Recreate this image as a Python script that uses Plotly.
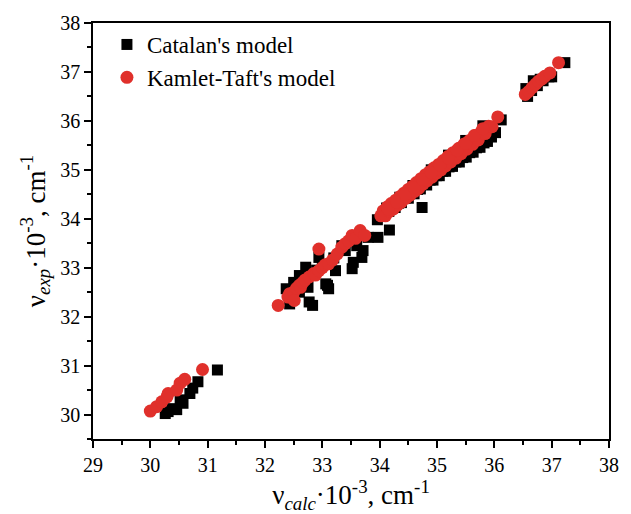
import plotly.graph_objects as go

# Catalan's model (black squares)
cat_x = [
    # low cluster
    30.26, 30.31, 30.46, 30.57, 30.69, 30.74, 30.83, 31.17, 30.38, 30.52,
    # middle cluster
    32.37, 32.43, 32.77, 32.83, 32.71, 33.06, 33.11, 33.23, 33.52, 33.54,
    33.69, 33.71, 33.80, 33.34, 32.60, 32.94, 33.09, 32.45, 32.55, 32.65,
    32.80, 32.90, 33.00, 32.50, 32.60, 32.75, 33.20, 33.40, 33.60, 32.50,
    # main band
    33.96, 34.05, 34.10, 34.16, 34.22, 34.27, 34.33, 34.38, 34.44, 34.50,
    34.55, 34.60, 34.66, 34.71, 34.77, 34.82, 34.88, 34.93, 34.99, 35.04,
    35.10, 35.15, 35.21, 35.27, 35.33, 35.39, 35.45, 35.51, 35.57, 35.63,
    35.69, 35.75, 35.82, 35.88, 35.95, 36.02, 36.12, 34.12, 34.35, 34.58,
    34.90, 35.20, 35.50, 35.80, 34.74, 34.17, 33.97,
    # top cluster
    36.55, 36.58, 36.65, 36.68, 36.75, 36.80, 36.85, 36.95, 37.00, 37.23,
]
cat_y = [
    30.02, 30.06, 30.10, 30.23, 30.43, 30.54, 30.67, 30.91, 30.12, 30.30,
    32.57, 32.26, 32.30, 32.23, 33.01, 32.67, 32.57, 32.94, 32.98, 33.11,
    33.21, 33.35, 33.62, 33.45, 32.84, 33.21, 32.64, 32.45, 32.62, 32.70,
    32.85, 32.95, 33.05, 32.70, 32.50, 32.60, 33.20, 33.35, 33.45, 32.35,
    33.98, 34.06, 34.14, 34.15, 34.24, 34.23, 34.32, 34.33, 34.42, 34.42,
    34.52, 34.51, 34.60, 34.61, 34.70, 34.69, 34.79, 34.79, 34.88, 34.88,
    34.97, 34.97, 35.06, 35.07, 35.16, 35.16, 35.25, 35.26, 35.35, 35.36,
    35.45, 35.46, 35.55, 35.58, 35.67, 35.76, 36.02, 34.22, 34.44, 34.68,
    35.00, 35.30, 35.60, 35.90, 34.23, 33.77, 33.62,
    36.66, 36.50, 36.62, 36.82, 36.72, 36.85, 36.82, 36.90, 36.90, 37.19,
]

# Kamlet-Taft's model (red circles)
kt_x = [
    # low cluster
    30.00, 30.11, 30.20, 30.29, 30.31, 30.46, 30.52, 30.60, 30.91,
    # middle cluster
    32.23, 32.40, 32.43, 32.50, 32.51, 32.55, 32.60, 32.62, 32.66, 32.70,
    32.77, 32.85, 32.88, 32.94, 32.94, 33.00, 33.05, 33.11, 33.18, 33.26,
    33.34, 33.40, 33.46, 33.52, 33.58, 33.66, 33.74,
    # main band
    34.02, 34.06, 34.10, 34.13, 34.17, 34.20, 34.24, 34.28, 34.31, 34.35,
    34.38, 34.42, 34.46, 34.50, 34.53, 34.57, 34.61, 34.64, 34.68, 34.72,
    34.76, 34.80, 34.83, 34.87, 34.91, 34.95, 34.99, 35.03, 35.07, 35.11,
    35.15, 35.19, 35.24, 35.28, 35.33, 35.38, 35.42, 35.47, 35.52, 35.57,
    35.62, 35.67, 35.72, 35.78, 35.84, 35.90, 35.96, 36.06,
    34.15, 34.30, 34.45, 34.60, 34.75, 34.90, 35.05, 35.20, 35.35, 35.50,
    35.65, 35.80,
    # top cluster
    36.54, 36.60, 36.66, 36.72, 36.77, 36.83, 36.88, 36.97, 37.12,
]
kt_y = [
    30.07, 30.16, 30.26, 30.36, 30.43, 30.50, 30.64, 30.72, 30.92,
    32.23, 32.40, 32.47, 32.50, 32.33, 32.58, 32.64, 32.60, 32.70, 32.75,
    32.81, 32.88, 32.85, 33.38, 32.94, 33.00, 33.06, 33.08, 33.16, 33.28,
    33.42, 33.49, 33.55, 33.66, 33.60, 33.76, 33.66,
    34.06, 34.16, 34.06, 34.24, 34.15, 34.31, 34.20, 34.38, 34.28, 34.45,
    34.34, 34.52, 34.42, 34.60, 34.48, 34.66, 34.56, 34.74, 34.62, 34.82,
    34.71, 34.90, 34.78, 34.96, 34.85, 35.04, 34.93, 35.11, 35.00, 35.19,
    35.08, 35.27, 35.16, 35.35, 35.24, 35.44, 35.33, 35.52, 35.42, 35.60,
    35.52, 35.70, 35.61, 35.79, 35.74, 35.89, 35.88, 36.08,
    34.20, 34.34, 34.50, 34.64, 34.80, 34.94, 35.10, 35.24, 35.40, 35.54,
    35.70, 35.84,
    36.54, 36.60, 36.68, 36.75, 36.81, 36.86, 36.91, 36.98, 37.19,
]

x_ticks = [29, 30, 31, 32, 33, 34, 35, 36, 37, 38]
y_ticks = [30, 31, 32, 33, 34, 35, 36, 37, 38]

FONT = "Liberation Serif"

fig = go.Figure()
fig.add_trace(go.Scatter(
    x=cat_x, y=cat_y, mode="markers", name="Catalan's model",
    marker=dict(symbol="square", size=11, color="black", line=dict(width=0)),
))
fig.add_trace(go.Scatter(
    x=kt_x, y=kt_y, mode="markers", name="Kamlet-Taft's model",
    marker=dict(symbol="circle", size=13, color="#e0302b", line=dict(width=0)),
))

axis_common = dict(
    showline=True, linecolor="black", linewidth=1.5, mirror=True,
    ticks="outside", ticklen=7, tickwidth=1.5, tickcolor="black",
    showgrid=False, zeroline=False,
    tickfont=dict(family=FONT, size=20, color="black"),
    minor=dict(ticks="outside", ticklen=4, tickwidth=1.5, tickcolor="black", dtick=0.5),
)

fig.update_xaxes(
    range=[29, 38], tickvals=x_ticks, ticktext=[str(v) for v in x_ticks],
    title=dict(text="ν<sub><i>calc</i></sub>·10<sup>-3</sup>, cm<sup>-1</sup>",
               font=dict(family=FONT, size=27, color="black"), standoff=5),
    **axis_common,
)
fig.update_yaxes(
    range=[29.5, 38], tickvals=y_ticks, ticktext=[str(v) for v in y_ticks],
    title=dict(text="ν<sub><i>exp</i></sub>·10<sup>-3</sup>, cm<sup>-1</sup>",
               font=dict(family=FONT, size=27, color="black"), standoff=7),
    **axis_common,
)

fig.update_layout(
    width=631, height=514,
    margin=dict(l=93, r=13, t=22, b=75),
    paper_bgcolor="white", plot_bgcolor="white",
    font=dict(family=FONT, color="black"),
    showlegend=True,
    legend=dict(
        x=0.027, y=1.0, xanchor="left", yanchor="top",
        bgcolor="rgba(0,0,0,0)", borderwidth=0,
        font=dict(family=FONT, size=23, color="black"),
        itemwidth=30, tracegroupgap=0,
    ),
)

fig.write_html("out.html")
